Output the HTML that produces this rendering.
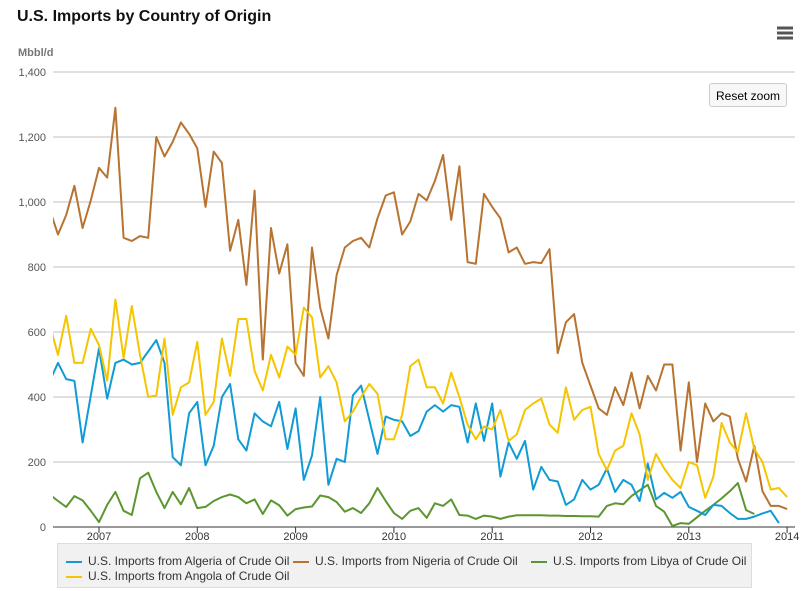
<!DOCTYPE html>
<html><head><meta charset="utf-8"><style>
body{margin:0;background:#fff;font-family:"Liberation Sans",sans-serif;}
#wrap{position:relative;width:810px;height:591px;overflow:hidden;}
.title{position:absolute;left:17px;top:8px;font-size:16px;font-weight:bold;color:#111;}
.btn{position:absolute;left:709px;top:83px;width:78px;height:24px;border:1px solid #ccc;border-radius:3px;background:#f7f7f7;font-size:12px;line-height:24px;text-align:center;color:#000;box-sizing:border-box;}
.legend{position:absolute;left:57px;top:543px;width:695px;height:45px;background:#f1f1f1;border:1px solid #ddd;box-sizing:border-box;}
.li{position:absolute;font-size:12px;color:#333;white-space:nowrap;}
.li i{display:inline-block;width:16px;height:2px;vertical-align:middle;margin-right:6px;}
</style></head><body>
<div id="wrap">
<div class="title">U.S. Imports by Country of Origin</div>
<svg id="chart" width="810" height="591" style="position:absolute;left:0;top:0"></svg>
<div class="btn">Reset zoom</div>
<div class="legend">
<div class="li" style="left:8px;top:10px"><i style="background:#109bd5"></i>U.S. Imports from Algeria of Crude Oil</div>
<div class="li" style="left:235px;top:10px"><i style="background:#b87330"></i>U.S. Imports from Nigeria of Crude Oil</div>
<div class="li" style="left:473px;top:10px"><i style="background:#5b9630"></i>U.S. Imports from Libya of Crude Oil</div>
<div class="li" style="left:8px;top:25px"><i style="background:#f5c500"></i>U.S. Imports from Angola of Crude Oil</div>
</div>
</div>
<script>
const yTicks=[0,200,400,600,800,1000,1200,1400];
const yTickLabels=["0","200","400","600","800","1,000","1,200","1,400"];
const xTicks=[2007,2008,2009,2010,2011,2012,2013,2014];
const startYear=2006.5;
const nigeria=[975,900,960,1050,920,1005,1105,1075,1290,890,880,895,890,1200,1140,1185,1245,1210,1165,985,1155,1120,850,945,745,1035,515,920,780,870,505,465,860,675,580,775,860,880,890,860,950,1020,1030,900,940,1025,1005,1065,1145,945,1110,815,810,1025,985,950,845,860,810,815,812,855,535,630,655,505,435,365,345,430,375,475,365,465,420,500,500,235,445,200,380,325,350,340,210,140,250,110,65,65,55];
const angola=[620,530,650,505,505,610,560,450,700,520,680,530,400,405,580,345,430,445,570,345,385,580,465,640,640,480,420,530,460,555,530,675,645,460,495,445,325,355,400,440,410,270,270,345,495,515,430,430,380,475,400,315,270,310,300,360,265,285,360,380,395,315,290,430,330,360,370,225,175,235,250,350,285,145,225,180,145,120,200,190,90,155,320,260,230,350,240,200,115,120,92];
const algeria=[450,505,455,450,260,405,550,395,505,515,500,505,540,575,505,215,190,350,385,190,250,400,440,270,235,350,325,310,385,240,365,145,220,400,130,210,200,405,435,330,225,340,330,325,280,295,355,375,355,375,370,260,380,265,380,155,260,210,265,115,185,145,140,68,85,145,115,130,180,108,145,130,80,195,85,105,90,108,62,50,37,68,65,43,25,25,32,42,50,12,null];
const libya=[99,80,62,95,82,50,15,68,108,50,37,150,167,108,58,108,70,120,58,62,80,92,100,92,73,85,40,82,67,35,55,60,63,97,92,77,47,58,43,73,120,80,43,25,50,58,28,73,65,85,37,35,25,35,32,25,32,36,36,36,36,35,35,34,34,33,33,32,65,73,70,95,113,130,65,47,3,12,10,30,50,68,88,110,135,52,40,null,null,null,null];
const L=53,R=795,T=72,B=527;
const x=v=>99+(v-2007)*98.3;
const xi=i=>x(startYear+i/12);
const y=v=>B-(v/1400)*(B-T);
const svg=document.getElementById('chart');
const NS='http://www.w3.org/2000/svg';
function mk(t,a){const e=document.createElementNS(NS,t);for(const k in a)e.setAttribute(k,a[k]);svg.appendChild(e);return e;}
const defs=mk('defs',{});
const cp=document.createElementNS(NS,'clipPath');cp.setAttribute('id','clip');
const cr=document.createElementNS(NS,'rect');cr.setAttribute('x',L);cr.setAttribute('y',T-5);cr.setAttribute('width',R-L);cr.setAttribute('height',B-T+10);
cp.appendChild(cr);defs.appendChild(cp);
yTicks.forEach((v,k)=>{
 const g=mk('line',{x1:L,x2:R,y1:y(v),y2:y(v),stroke:v===0?'#333':'#c0c0c0','stroke-width':1});
 
 
 const t=mk('text',{x:46,y:y(v)+4,'text-anchor':'end','font-size':11,fill:'#555','font-family':'Liberation Sans, sans-serif'});
 t.textContent=yTickLabels[k];
 
 
});
const yt=mk('text',{x:18,y:56,'font-size':11,'font-weight':'bold',fill:'#777','font-family':'Liberation Sans, sans-serif'});
yt.textContent='Mbbl/d';


xTicks.forEach(v=>{
 const tk=mk('line',{x1:x(v),x2:x(v),y1:B,y2:B+6,stroke:'#333'});
 
 
 const t=mk('text',{x:x(v),y:B+13,'text-anchor':'middle','font-size':11,fill:'#333','font-family':'Liberation Sans, sans-serif'});
 t.textContent=v;
 
 
});
function series(arr,color,name){
 let d='',pen=false;
 arr.forEach((v,i)=>{if(v===null){pen=false;return;}d+=(pen?'L':'M')+xi(i).toFixed(1)+','+y(v).toFixed(1);pen=true;});
 const p=mk('path',{d:d,fill:'none',stroke:color,'stroke-width':2,'stroke-linejoin':'round','clip-path':'url(#clip)'});
 
 
}
series(libya,'#5b9630','series-libya');
series(algeria,'#109bd5','series-algeria');
series(nigeria,'#b87330','series-nigeria');
series(angola,'#f5c500','series-angola');
const menu=mk('g',{});


[28,33,38].forEach(yy=>{const r=document.createElementNS(NS,'rect');r.setAttribute('x',777);r.setAttribute('y',yy-1.5);r.setAttribute('width',16);r.setAttribute('height',3);r.setAttribute('fill','#555');menu.appendChild(r);});
</script>
</body></html>
